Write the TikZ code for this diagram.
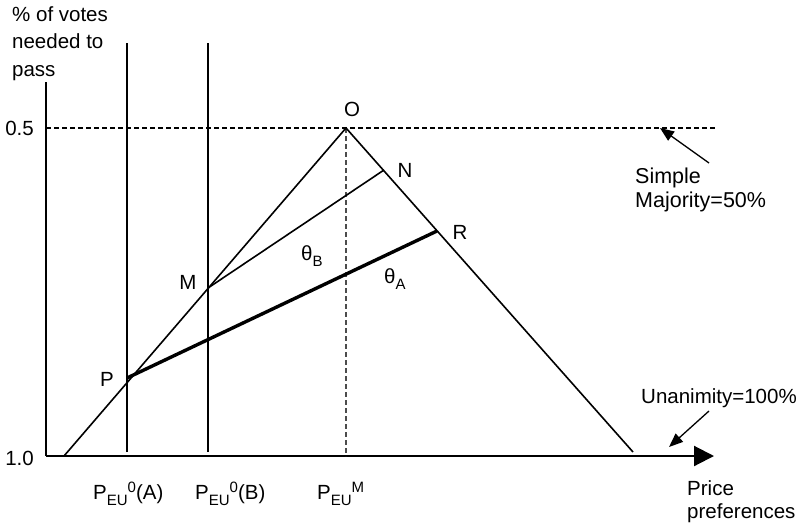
\documentclass[tikz,border=0pt]{standalone}
\usepackage{fontspec}
\setmainfont{Liberation Sans}
\usetikzlibrary{arrows.meta}
\newcommand\lowtxt[1]{\raisebox{-6pt}{\fontsize{15}{15}\selectfont #1}}
\newcommand\hightxt[1]{\raisebox{6.5pt}{\fontsize{15}{15}\selectfont #1}}
\begin{document}
\begin{tikzpicture}[x=1pt,y=-1pt,
  lbl/.style={inner sep=0pt,font=\fontsize{20.5}{23}\selectfont},
  thinline/.style={line width=1.6pt},
  vline/.style={line width=2.1pt},
  thickline/.style={line width=3.4pt},
  dashline/.style={line width=1.3pt,dash pattern=on 5pt off 3pt},
  callout/.style={line width=1.3pt,-{Triangle[length=14pt,width=11pt]}}]
\useasboundingbox (0,0) rectangle (802,525);
% coordinates
\coordinate (axtop) at (46,82);
\coordinate (orig) at (46,456);
\coordinate (axend) at (714,456);
\coordinate (L0) at (64,456);
\coordinate (O) at (346,128);
\coordinate (Rend) at (633,452);
\coordinate (P) at (127,378);
\coordinate (M) at (208,288);
\coordinate (N) at (384,170);
\coordinate (R) at (437,231);
\coordinate (Abot) at (127,452);
\coordinate (Atop) at (127,43);
\coordinate (Bbot) at (208,452);
\coordinate (Btop) at (208,43);
\coordinate (Obot) at (346,456);
\coordinate (dl) at (46,128);
\coordinate (dr) at (716,128);
\coordinate (smtail) at (709,163);
\coordinate (smtip) at (660,128);
\coordinate (untail) at (709,411);
\coordinate (untip) at (669,447);
% axes
\draw[vline] (axtop) -- (orig);
\draw[vline,-{Triangle[length=20pt,width=20pt]}] (orig) -- (axend);
% verticals
\draw[vline] (Abot) -- (Atop);
\draw[vline] (Bbot) -- (Btop);
% dashed
\draw[dashline] (dl) -- (dr);
\draw[dashline,black!70] (O) -- (Obot);
% triangle
\draw[thinline] (L0) -- (O) -- (Rend);
\draw[thinline] (M) -- (N);
\draw[thickline] (P) -- (R);
% callouts
\draw[callout] (smtail) -- (smtip);
\draw[callout] (untail) -- (untip);
% labels
\node[lbl,anchor=north west,align=left,font=\fontsize{20.5}{27.5}\selectfont] (ylab) at (12,6) {\% of votes\\needed to\\pass};
\node[lbl,anchor=base east] (l05) at (34,135) {0.5};
\node[lbl,anchor=base east] (l10) at (34,465) {1.0};
\node[lbl] (lO) at (352,109) {O};
\node[lbl] (lN) at (405,170) {N};
\node[lbl] (lR) at (460,232) {R};
\node[lbl] (lM) at (188,282) {M};
\node[lbl] (lP) at (107,379) {P};
\node[lbl,anchor=base west] (thB) at (301,260) {θ\lowtxt{B}};
\node[lbl,anchor=base west] (thA) at (384,283) {θ\lowtxt{A}};
\node[lbl,anchor=base west] (pa) at (93,499) {P\lowtxt{EU}\hightxt{0}(A)};
\node[lbl,anchor=base west] (pb) at (195,499) {P\lowtxt{EU}\hightxt{0}(B)};
\node[lbl,anchor=base west] (pm) at (317,499) {P\lowtxt{EU}\hightxt{M}};
\node[lbl,anchor=north west,align=left] (xlab) at (687,480) {Price\\preferences};
\node[lbl,anchor=north west,align=left,font=\fontsize{21.5}{24}\selectfont] (sm) at (635,168) {Simple\\Majority=50\%};
\node[lbl,anchor=base west] (un) at (641,403) {Unanimity=100\%};
\end{tikzpicture}
\end{document}
